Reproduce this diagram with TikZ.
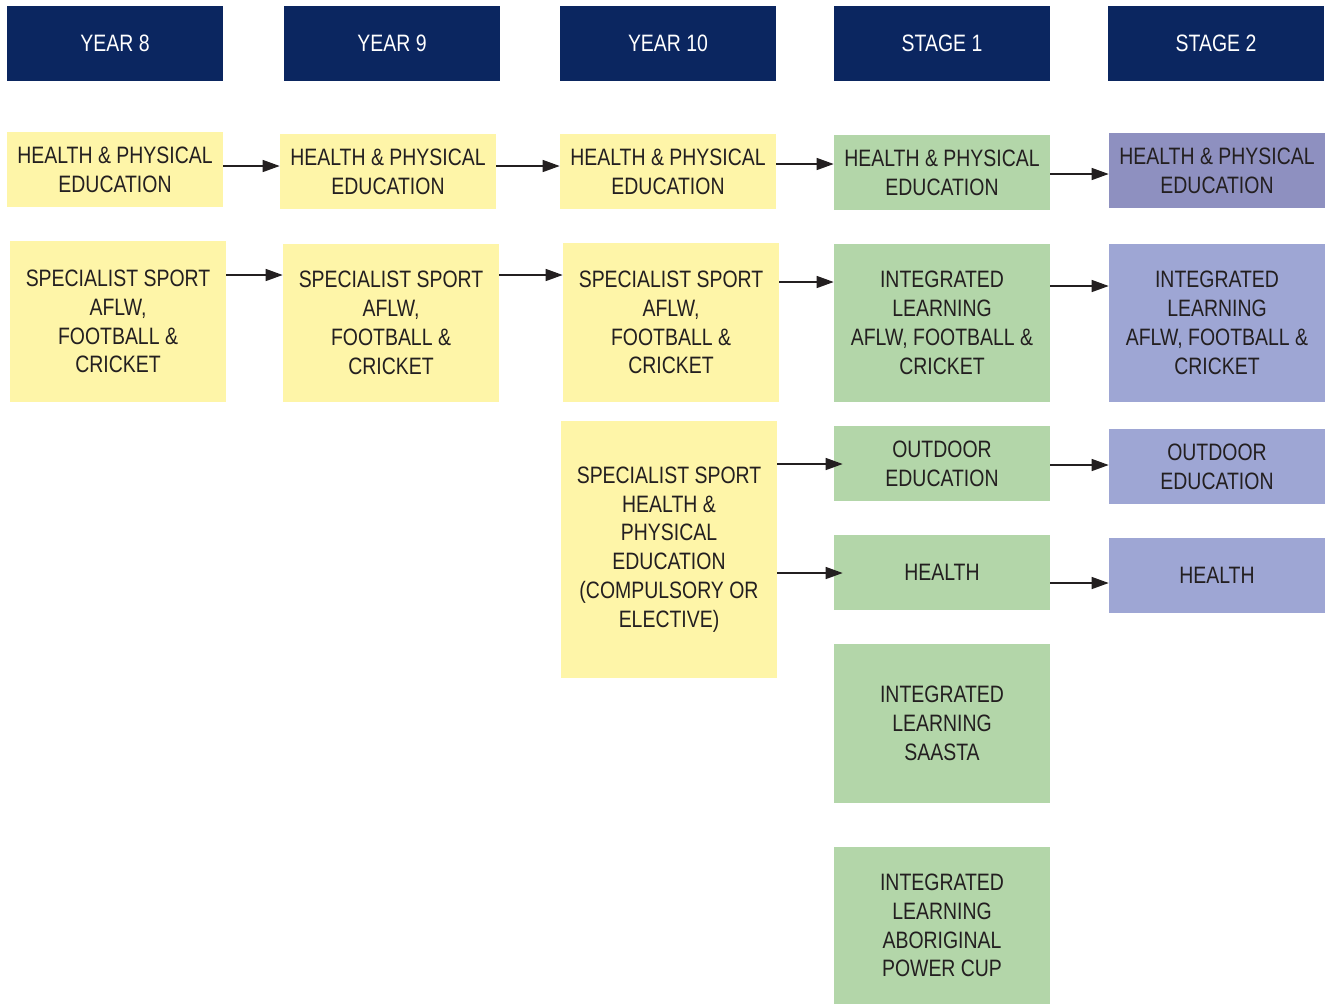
\documentclass[tikz,border=0pt]{standalone}
\usepackage{fontspec}
\setmainfont{Liberation Sans}[FakeStretch=0.82]
\usetikzlibrary{arrows.meta}
\definecolor{navy}{HTML}{0B2660}
\definecolor{ybox}{HTML}{FEF5A8}
\definecolor{gbox}{HTML}{B3D6A9}
\definecolor{pdark}{HTML}{8E90C0}
\definecolor{plight}{HTML}{9EA6D4}
\definecolor{ink}{HTML}{231F20}
\tikzset{
  box/.style={minimum width=4.32cm, minimum height=1.5cm, inner sep=0pt,
    align=center, text=ink, font=\fontsize{13.5}{16.4}\selectfont},
  head/.style={box, fill=navy, text=white},
  yel/.style={box, fill=ybox},
  grn/.style={box, fill=gbox},
  pur/.style={box, fill=plight},
  purd/.style={box, fill=pdark},
  arr/.style={draw=ink, line width=0.8pt, -{Triangle[length=0.34cm,width=0.24cm]}},
}
\begin{document}
\begin{tikzpicture}[x=0.02cm, y=-0.02cm]
\useasboundingbox (0,0) rectangle (1327,1005);

% column headings
\node[head] (h8)  at (115,43.5)  {YEAR 8};
\node[head] (h9)  at (392,43.5)  {YEAR 9};
\node[head] (h10) at (668,43.5)  {YEAR 10};
\node[head] (hs1) at (942,43.5)  {STAGE 1};
\node[head] (hs2) at (1216,43.5) {STAGE 2};

% health and physical education row
\node[yel]  (y8hpe)  at (115,169.5)  {HEALTH \& PHYSICAL\\EDUCATION};
\node[yel]  (y9hpe)  at (388,171.5)  {HEALTH \& PHYSICAL\\EDUCATION};
\node[yel]  (y10hpe) at (668,171.5)  {HEALTH \& PHYSICAL\\EDUCATION};
\node[grn]  (s1hpe)  at (942,172.5)  {HEALTH \& PHYSICAL\\EDUCATION};
\node[purd] (s2hpe)  at (1217,170.5) {HEALTH \& PHYSICAL\\EDUCATION};

% specialist sport row
\node[yel, minimum height=3.22cm] (y8ss)  at (118,321.5) {SPECIALIST SPORT\\AFLW,\\FOOTBALL \&\\CRICKET};
\node[yel, minimum height=3.16cm] (y9ss)  at (391,323)   {SPECIALIST SPORT\\AFLW,\\FOOTBALL \&\\CRICKET};
\node[yel, minimum height=3.18cm] (y10ss) at (671,322.5) {SPECIALIST SPORT\\AFLW,\\FOOTBALL \&\\CRICKET};
\node[grn, minimum height=3.16cm] (s1il)  at (942,323)   {INTEGRATED\\LEARNING\\AFLW, FOOTBALL \&\\CRICKET};
\node[pur, minimum height=3.16cm] (s2il)  at (1217,323)  {INTEGRATED\\LEARNING\\AFLW, FOOTBALL \&\\CRICKET};

% year 10 elective and its stage pathways
\node[yel, minimum height=5.14cm] (y10shpe) at (669,549.5)
  {SPECIALIST SPORT\\HEALTH \&\\PHYSICAL\\EDUCATION\\(COMPULSORY OR\\ELECTIVE)};
\node[grn] (s1out) at (942,463.5)  {OUTDOOR\\EDUCATION};
\node[pur] (s2out) at (1217,466.5) {OUTDOOR\\EDUCATION};
\node[grn] (s1hl)  at (942,572.5)  {HEALTH};
\node[pur] (s2hl)  at (1217,575.5) {HEALTH};
\node[grn, minimum height=3.18cm] (s1saasta) at (942,723.5) {INTEGRATED\\LEARNING\\SAASTA};
\node[grn, minimum height=3.14cm] (s1apc)    at (942,925.5) {INTEGRATED\\LEARNING\\ABORIGINAL\\POWER CUP};

% progression arrows
\draw[arr] (y8hpe.east  |- 0,166) -- (y9hpe.west  |- 0,166);
\draw[arr] (y9hpe.east  |- 0,166) -- (y10hpe.west |- 0,166);
\draw[arr] (y10hpe.east |- 0,164) -- (s1hpe.west  |- 0,164);
\draw[arr] (s1hpe.east  |- 0,174) -- (s2hpe.west  |- 0,174);

\draw[arr] (y8ss.east  |- 0,275) -- (y9ss.west  |- 0,275);
\draw[arr] (y9ss.east  |- 0,275) -- (y10ss.west |- 0,275);
\draw[arr] (y10ss.east |- 0,282) -- (s1il.west  |- 0,282);
\draw[arr] (s1il.east  |- 0,286) -- (s2il.west  |- 0,286);

\draw[arr, shorten >=-0.18cm] (y10shpe.east |- 0,464) -- (s1out.west |- 0,464);
\draw[arr, shorten >=-0.18cm] (y10shpe.east |- 0,573) -- (s1hl.west  |- 0,573);
\draw[arr] (s1out.east |- 0,465) -- (s2out.west |- 0,465);
\draw[arr] (s1hl.east  |- 0,583) -- (s2hl.west  |- 0,583);
\end{tikzpicture}
\end{document}
